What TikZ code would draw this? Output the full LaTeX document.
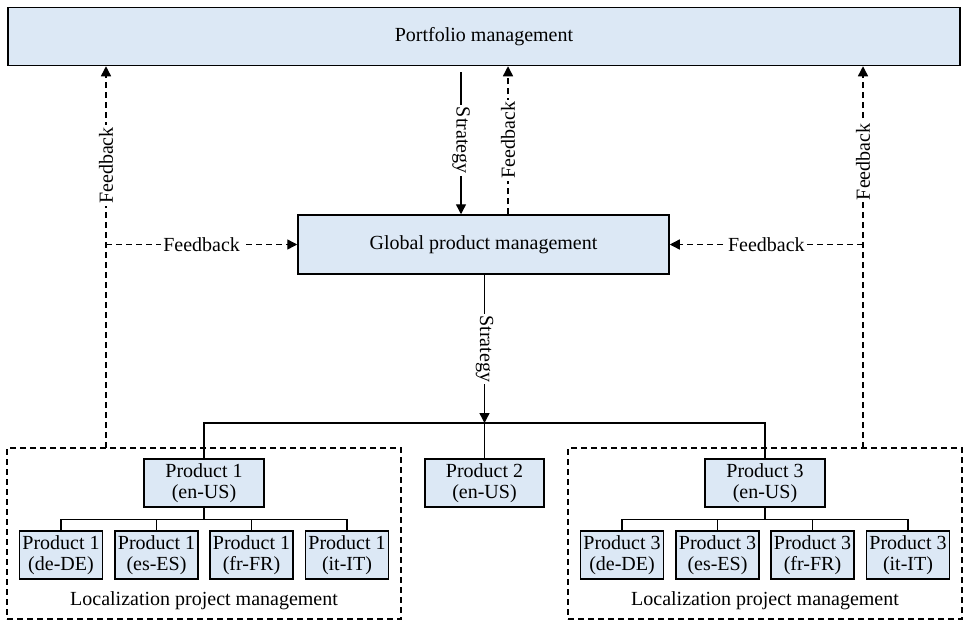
\documentclass[tikz,border=0pt]{standalone}
\usepackage{fontspec}
\setmainfont{Liberation Serif}
\usetikzlibrary{arrows.meta,calc}
\definecolor{boxfill}{RGB}{220,232,245}
\begin{document}
\begin{tikzpicture}[x=1pt,y=-1pt,
  font=\fontsize{20}{21.5}\selectfont,
  box/.style={draw, line width=1.5pt, fill=boxfill, align=center, inner sep=0pt},
  prod/.style={box, minimum width=83pt, minimum height=48pt},
  group/.style={draw, line width=1.3pt, dash pattern=on 6pt off 4pt, inner sep=0pt},
  link/.style={line width=1.4pt},
  tip/.style={-{Triangle[length=10pt,width=10pt]}},
  fb/.style={link, dash pattern=on 6pt off 4pt},
  lbl/.style={fill=white, inner sep=2pt}
]
\useasboundingbox (0,0) rectangle (966,621);

% management levels
\node[box, minimum width=952pt, minimum height=58pt] (portfolio) at (484,36.5) {Portfolio management};
\node[box, minimum width=371pt, minimum height=59pt] (global) at (483.5,244.5) {Global product management};

% localization groups
\node[group, minimum width=394pt, minimum height=171pt] (locL) at (204,533.5) {};
\node[group, minimum width=394pt, minimum height=171pt] (locR) at (765,533.5) {};
\node (locLtxt) at (204,601) {Localization project management};
\node (locRtxt) at (765,601) {Localization project management};

% products
\node[prod, minimum width=120pt] (p1) at (204,483) {Product 1\\(en-US)};
\node[prod, minimum width=119pt] (p2) at (484.5,483) {Product 2\\(en-US)};
\node[prod, minimum width=120pt] (p3) at (765,483) {Product 3\\(en-US)};

\node[prod] (p1de) at (61,555) {Product 1\\(de-DE)};
\node[prod] (p1es) at (156.5,555) {Product 1\\(es-ES)};
\node[prod] (p1fr) at (251.5,555) {Product 1\\(fr-FR)};
\node[prod] (p1it) at (347,555) {Product 1\\(it-IT)};

\node[prod] (p3de) at (622,555) {Product 3\\(de-DE)};
\node[prod] (p3es) at (717.5,555) {Product 3\\(es-ES)};
\node[prod] (p3fr) at (812.5,555) {Product 3\\(fr-FR)};
\node[prod] (p3it) at (908,555) {Product 3\\(it-IT)};

% helper coordinates
\coordinate (stratTop) at (461,0);
\coordinate (fbMid) at (508,0);
\coordinate (fbL) at (106,448);
\coordinate (fbR) at (863,448);
\coordinate (hub) at (484.5,423);

% strategy flow
\draw[link, tip, shorten <=6pt] (portfolio.south -| stratTop) -- node[lbl, rotate=-90] {Strategy} (global.north -| stratTop);
\draw[link, tip] (global.south -| hub) -- node[lbl, rotate=-90] {Strategy} (hub);
\draw[link] (p1.north) |- (hub) -| (p3.north);
\draw[link] (hub) -- (p2.north);

% product trees
\foreach \c in {de,es,fr,it} {
  \draw[link] (p1.south) -- ++(0,12) -| (p1\c.north);
  \draw[link] (p3.south) -- ++(0,12) -| (p3\c.north);
}

% feedback flow
\draw[fb, tip] (global.north -| fbMid) -- node[lbl, rotate=90] {Feedback} (portfolio.south -| fbMid);
\draw[fb, tip] (fbL) -- node[lbl, rotate=90, pos=0.74] {Feedback} (portfolio.south -| fbL);
\draw[fb, tip] (fbR) -- node[lbl, rotate=90, pos=0.75] {Feedback} (portfolio.south -| fbR);
\draw[fb, tip] (global.west -| fbL) -- node[lbl] {Feedback} (global.west);
\draw[fb, tip] (global.east -| fbR) -- node[lbl] {Feedback} (global.east);
\end{tikzpicture}
\end{document}
